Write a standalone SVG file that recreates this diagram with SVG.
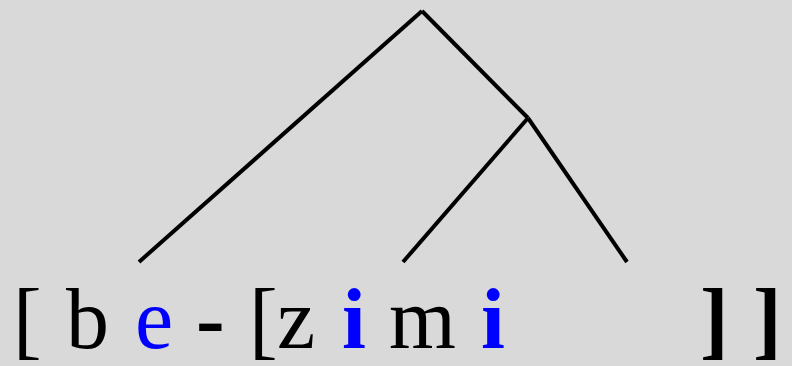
<svg xmlns="http://www.w3.org/2000/svg" width="792" height="366" viewBox="0 0 792 366">
<style>
.bg{fill:#d9d9d9}
.e{stroke:#000;stroke-width:4;fill:none;stroke-linecap:butt}
.t{font-family:"Liberation Serif","Times New Roman",serif;font-size:86px;fill:#000}
.b{font-weight:bold}
.blue{fill:#0000ff}
</style>
<rect class="bg" x="0" y="0" width="792" height="366"/>
<g id="connectors">
<line class="e" x1="422" y1="11" x2="139" y2="262"/>
<line class="e" x1="422" y1="11" x2="528" y2="118"/>
<line class="e" x1="528" y1="118" x2="403" y2="262"/>
<line class="e" x1="528" y1="118" x2="627" y2="262"/>
</g>
<g id="label">
<text class="t" y="348"><tspan x="13">[</tspan><tspan x="66">b</tspan><tspan x="135" class="blue">e</tspan><tspan x="196" class="b">-</tspan><tspan x="249">[</tspan><tspan x="277">z</tspan><tspan x="342" class="b blue">i</tspan><tspan x="389">m</tspan><tspan x="481" class="b blue">i</tspan><tspan x="700" class="b">]</tspan><tspan x="753" class="b">]</tspan></text>
</g>
</svg>
